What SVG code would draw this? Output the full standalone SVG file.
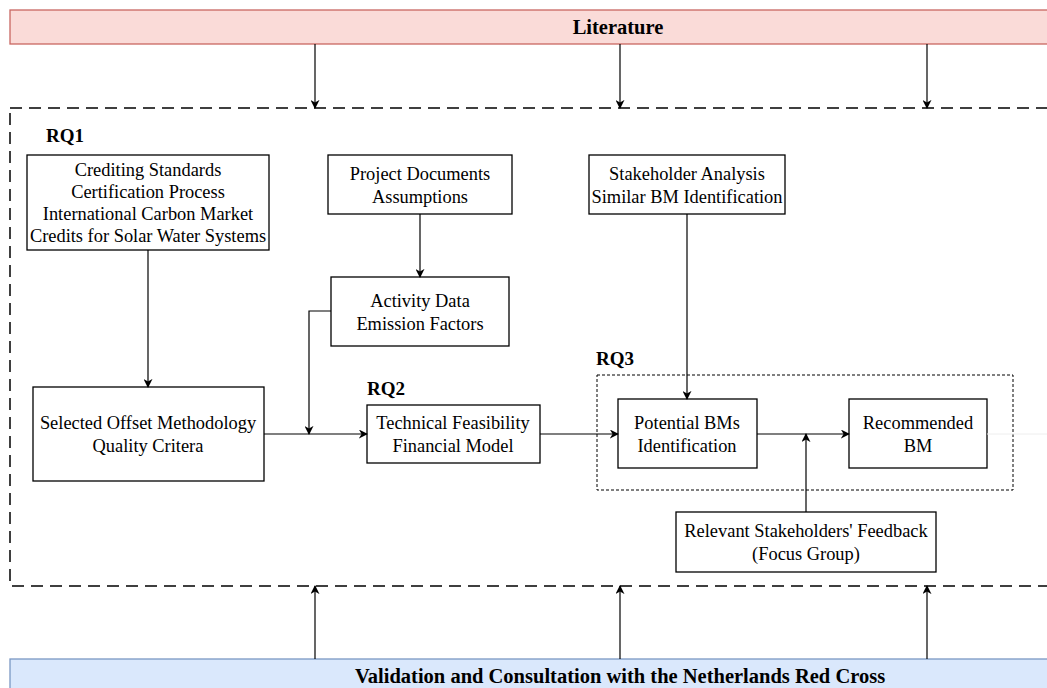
<svg xmlns="http://www.w3.org/2000/svg" width="1047" height="688" viewBox="0 0 1047 688">
<style>
text{font-family:"Liberation Serif","Times New Roman",serif;font-size:18.4px;fill:#000;text-anchor:middle;dominant-baseline:central}
.b{font-weight:bold}
.lbl{text-anchor:start;font-size:19px}
.box{fill:#fff;stroke:#000;stroke-width:1.3}
.ln{fill:none;stroke:#000;stroke-width:1.2}
</style>
<defs>
<marker id="ah" viewBox="0 0 10 10" refX="9" refY="5" markerWidth="9" markerHeight="9" markerUnits="userSpaceOnUse" orient="auto">
<path d="M0,0 L10,5 L0,10 L3,5 Z" fill="#000"/>
</marker>
</defs>
<rect width="1047" height="688" fill="#fff"/>
<g id="literature">
<rect x="10" y="10" width="1045" height="34" fill="#fadbd8" stroke="#c96762" stroke-width="1.3"/>
<text class="b" x="618" y="27" style="font-size:20.5px">Literature</text>
</g>
<g id="scope">
<rect x="10" y="108" width="1060" height="478" fill="none" stroke="#000" stroke-width="1.5" stroke-dasharray="12 7"/>
</g>
<g id="validation">
<rect x="10" y="659" width="1045" height="40" fill="#dae8fc" stroke="#7a98c4" stroke-width="1.3"/>
<text class="b" x="620" y="676" style="font-size:20.5px">Validation and Consultation with the Netherlands Red Cross</text>
</g>
<g id="rq1-label"><text class="b lbl" x="46" y="135">RQ1</text></g>
<g id="rq2-label"><text class="b lbl" x="367" y="388">RQ2</text></g>
<g id="rq3-label"><text class="b lbl" x="596" y="358">RQ3</text></g>
<g id="rq3-group">
<rect x="597" y="375" width="416" height="115" fill="none" stroke="#000" stroke-width="1" stroke-dasharray="3 2"/>
</g>
<g id="crediting">
<rect class="box" x="27" y="155" width="242" height="95"/>
<text x="148" y="170">Crediting Standards</text>
<text x="148" y="192">Certification Process</text>
<text x="148" y="214">International Carbon Market</text>
<text x="148" y="236">Credits for Solar Water Systems</text>
</g>
<g id="selected">
<rect class="box" x="33" y="387" width="231" height="94"/>
<text x="148" y="423">Selected Offset Methodology</text>
<text x="148" y="446">Quality Critera</text>
</g>
<g id="project">
<rect class="box" x="328" y="155" width="184" height="59"/>
<text x="420" y="174">Project Documents</text>
<text x="420" y="197">Assumptions</text>
</g>
<g id="activity">
<rect class="box" x="331" y="277" width="178" height="69"/>
<text x="420" y="301">Activity Data</text>
<text x="420" y="324">Emission Factors</text>
</g>
<g id="technical">
<rect class="box" x="367" y="405" width="173" height="58"/>
<text x="453" y="423">Technical Feasibility</text>
<text x="453" y="446">Financial Model</text>
</g>
<g id="stakeholder">
<rect class="box" x="589" y="155" width="196" height="59"/>
<text x="687" y="174">Stakeholder Analysis</text>
<text x="687" y="197">Similar BM Identification</text>
</g>
<g id="potential">
<rect class="box" x="618" y="399" width="139" height="69"/>
<text x="687" y="423">Potential BMs</text>
<text x="687" y="446">Identification</text>
</g>
<g id="recommended">
<rect class="box" x="849" y="399" width="138" height="69"/>
<text x="918" y="423">Recommended</text>
<text x="918" y="446">BM</text>
</g>
<g id="feedback">
<rect class="box" x="676" y="512" width="260" height="60"/>
<text x="806" y="531">Relevant Stakeholders' Feedback</text>
<text x="806" y="554">(Focus Group)</text>
</g>
<g id="connectors">
<path class="ln" d="M315,44 V108" marker-end="url(#ah)"/>
<path class="ln" d="M620,44 V108" marker-end="url(#ah)"/>
<path class="ln" d="M927,44 V108" marker-end="url(#ah)"/>
<path class="ln" d="M315,659 V586" marker-end="url(#ah)"/>
<path class="ln" d="M620,659 V586" marker-end="url(#ah)"/>
<path class="ln" d="M927,659 V586" marker-end="url(#ah)"/>
<path class="ln" d="M148,250 V387" marker-end="url(#ah)"/>
<path class="ln" d="M420,214 V277" marker-end="url(#ah)"/>
<path class="ln" d="M331,311 H309 V434" marker-end="url(#ah)"/>
<path class="ln" d="M264,434 H367" marker-end="url(#ah)"/>
<path class="ln" d="M540,434 H618" marker-end="url(#ah)"/>
<path class="ln" d="M687,214 V399" marker-end="url(#ah)"/>
<path class="ln" d="M757,434 H849" marker-end="url(#ah)"/>
<path class="ln" d="M806,512 V434" marker-end="url(#ah)"/>
<path d="M987,434 H1047" fill="none" stroke="#eeeeee" stroke-width="1"/>
</g>
</svg>
